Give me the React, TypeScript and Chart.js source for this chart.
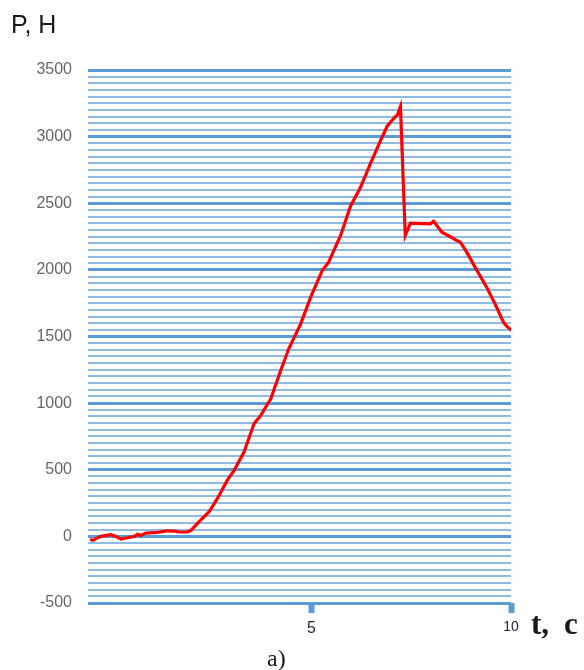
import React, { useEffect, useRef } from "react";
import { Chart, registerables } from "chart.js";

Chart.register(...registerables);

// Force P (H) versus time t (c)
const timeValues: number[] = [
  -0.55, -0.48, -0.28, -0.03, 0.1, 0.22, 0.39, 0.56, 0.64, 0.72, 0.85, 1.14, 1.39, 1.56, 1.68, 1.89,
  1.98, 2.18, 2.43, 2.64, 2.89, 3.06, 3.31, 3.56, 3.73, 3.98, 4.23, 4.43, 4.73, 4.98, 5.27, 5.43,
  5.56, 5.73, 5.98, 6.23, 6.48, 6.73, 6.9, 6.98, 7.1, 7.15, 7.23, 7.35, 7.48, 7.98, 8.06, 8.27,
  8.5, 8.64, 8.73, 8.89, 9.1, 9.39, 9.6, 9.81, 9.89, 10.02,
];
const forceValues: number[] = [
  -22, -30, 0, 13, 0, -20, -10, 0, 15, 7, 25, 30, 42, 40, 33, 33,
  45, 108, 183, 283, 420, 495, 633, 845, 908, 1033, 1245, 1408, 1595, 1795, 1995, 2058,
  2145, 2258, 2480, 2620, 2800, 2970, 3080, 3108, 3150, 3160, 3225, 2258, 2350, 2345, 2365, 2283,
  2245, 2220, 2208, 2133, 2020, 1870, 1745, 1608, 1578, 1545,
];

const yMin = -500;
const yMax = 3500;
const yStep = 50;
const yLabelStep = 500;
const xTickValues: number[] = [5, 10];

const majorGrid = "#5b9bd5";
const minorGrid = "#8ebae4";

const captions = {
  yTitle: "P, H",
  xTitleT: "t,",
  xTitleC: "c",
  panel: "a)",
};

export default function App() {
  const canvasRef = useRef<HTMLCanvasElement | null>(null);

  useEffect(() => {
    const canvas = canvasRef.current;
    if (!canvas) return;

    const captionPlugin = {
      id: "captions",
      afterDraw(chart: Chart) {
        const { ctx } = chart;
        ctx.save();
        ctx.fillStyle = "#1a1a1a";
        ctx.textBaseline = "alphabetic";
        ctx.textAlign = "left";
        ctx.font = '25px "Liberation Sans", Arial, sans-serif';
        ctx.fillText(captions.yTitle, 11, 33);
        ctx.font = 'bold 31px "Liberation Serif", "Times New Roman", serif';
        ctx.fillText(captions.xTitleT, 531, 634);
        ctx.fillText(captions.xTitleC, 564, 634);
        ctx.font = '24px "Liberation Serif", "Times New Roman", serif';
        ctx.fillText(captions.panel, 267, 666);
        ctx.restore();
      },
    };

    const chart = new Chart(canvas, {
      type: "line",
      data: {
        datasets: [
          {
            data: timeValues.map((t, i) => ({ x: t, y: forceValues[i] })),
            borderColor: "#ff0000",
            borderWidth: 3.2,
            pointRadius: 0,
            tension: 0,
            fill: false,
          },
        ],
      },
      options: {
        animation: false,
        responsive: false,
        maintainAspectRatio: false,
        layout: { padding: { top: 70, right: 73, left: 0, bottom: 0 } },
        plugins: {
          legend: { display: false },
          tooltip: { enabled: false },
        },
        scales: {
          x: {
            type: "linear",
            min: -0.6,
            max: 10,
            border: { display: false },
            grid: {
              drawOnChartArea: false,
              drawTicks: true,
              tickLength: 10,
              tickWidth: 6,
              tickColor: majorGrid,
            },
            afterBuildTicks(scale: any) {
              scale.ticks = xTickValues.map((v) => ({ value: v }));
            },
            afterFit(scale: any) {
              scale.height = 67;
            },
            ticks: {
              autoSkip: false,
              maxRotation: 0,
              padding: 6,
              color: "#1f1f3a",
              font: (c: any) => ({
                family: '"Liberation Sans", Arial, sans-serif',
                size: c.tick && c.tick.value === 10 ? 14 : 16,
              }),
              callback: (v: any) => String(v),
            },
          },
          y: {
            type: "linear",
            min: yMin,
            max: yMax,
            border: { display: false },
            grid: {
              drawTicks: false,
              color: (c: any) => (c.tick && c.tick.value % yLabelStep === 0 ? majorGrid : minorGrid),
              lineWidth: (c: any) => (c.tick && c.tick.value % yLabelStep === 0 ? 3 : 2),
            },
            afterFit(scale: any) {
              scale.width = 88;
            },
            ticks: {
              stepSize: yStep,
              autoSkip: false,
              padding: 16,
              color: "#666666",
              font: { family: '"Liberation Sans", Arial, sans-serif', size: 16 },
              callback: (v: any) => (Number(v) % yLabelStep === 0 ? String(v) : ""),
            },
          },
        },
      },
      plugins: [captionPlugin],
    });

    return () => chart.destroy();
  }, []);

  return (
    <div style={{ position: "absolute", left: 0, top: 0, width: 584, height: 670, background: "#ffffff" }}>
      <canvas ref={canvasRef} width={584} height={670} style={{ display: "block" }} />
    </div>
  );
}
